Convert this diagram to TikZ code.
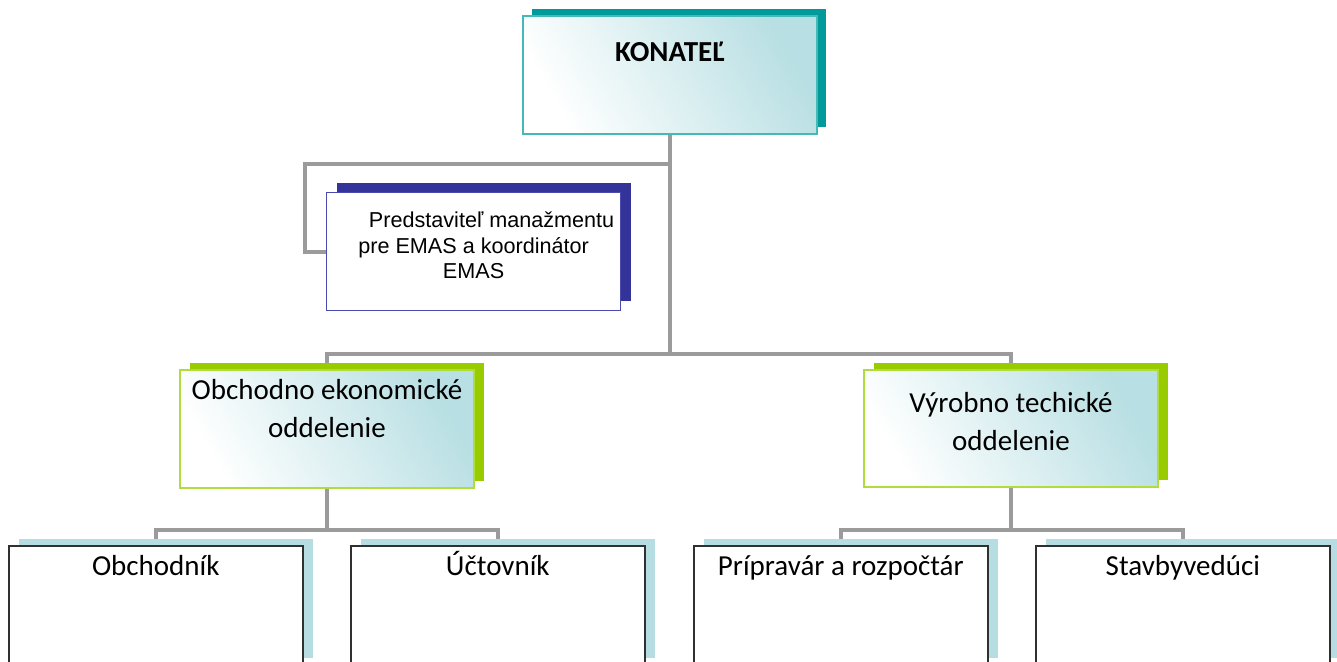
\documentclass[tikz,border=0pt]{standalone}
\usepackage{fontspec}
\setmainfont{Carlito}
\newfontfamily\arialfont{Liberation Sans}
\usetikzlibrary{shadows,backgrounds}

\definecolor{conngray}{HTML}{9B9B9B}
\definecolor{tealdark}{HTML}{009A9A}
\definecolor{tealline}{HTML}{45B8B8}
\definecolor{tealtint}{HTML}{B8DFE3}
\definecolor{emasblue}{HTML}{333399}
\definecolor{emasline}{HTML}{4A4AB0}
\definecolor{limegreen}{HTML}{99CC00}
\definecolor{limeline}{HTML}{B0DC3C}
\definecolor{paleblue}{HTML}{B6DEE2}
\definecolor{boxline}{HTML}{303030}

\begin{document}
\begin{tikzpicture}[x=1pt, y=-1pt,
    conn/.style={draw=conngray, line width=4pt},
    orgbox/.style={rectangle, anchor=north west, inner xsep=0pt, inner ysep=0pt,
        minimum width=294pt, align=center},
    tintbox/.style={orgbox, line width=2pt, left color=white, right color=tealtint,
        shading angle=120, font=\fontsize{29}{38}\selectfont},
    headbox/.style={tintbox, draw=tealline,
        drop shadow={shadow xshift=9pt, shadow yshift=7pt, fill=tealdark, opacity=1}},
    deptbox/.style={tintbox, draw=limeline,
        drop shadow={shadow xshift=10pt, shadow yshift=7pt, fill=limegreen, opacity=1}},
    emasbox/.style={orgbox, draw=emasline, line width=1.2pt, fill=white,
        font=\arialfont\fontsize{21.6}{25.5}\selectfont,
        drop shadow={shadow xshift=10pt, shadow yshift=10pt, fill=emasblue, opacity=1}},
    staffbox/.style={orgbox, draw=boxline, line width=1.6pt, fill=white,
        font=\fontsize{29}{38}\selectfont, text height=30pt, text depth=89pt,
        drop shadow={shadow xshift=10pt, shadow yshift=7pt, fill=paleblue, opacity=1}}]

    \useasboundingbox (0,0) rectangle (1337,661);
    \clip (0,0) rectangle (1337,661);

    % head
    \node[headbox, text height=45pt, text depth=73pt] (kon) at (522,15) {\bfseries KONATEĽ};

    % EMAS representative
    \node[emasbox, text height=86pt, text depth=32pt] (emas) at (326,192)
        {\hspace*{36pt}Predstaviteľ manažmentu\\pre EMAS a koordinátor\\EMAS};

    % departments
    \node[deptbox, text height=67pt, text depth=51pt] (oek) at (179,369)
        {Obchodno ekonomické\\oddelenie};
    \node[deptbox, text height=80pt, text depth=37pt] (vyr) at (863,369)
        {Výrobno techické\\oddelenie};

    % staff
    \node[staffbox] (obch) at (8,545) {Obchodník};
    \node[staffbox] (ucto) at (350,545) {Účtovník};
    \node[staffbox] (prip) at (693,545) {Prípravár a rozpočtár};
    \node[staffbox] (stav) at (1035,545) {Stavbyvedúci};

    % lines
    \begin{scope}[on background layer]
        \draw[conn] (kon.south) -- ++(0,29) -| ([xshift=-21pt]emas.west) -- (emas.west);
        \draw[conn] (kon.south) -- ++(0,219) -| (oek.north);
        \draw[conn] (kon.south) -- ++(0,219) -| (vyr.north);
        \draw[conn] (oek.south) -- ++(0,41) -| (obch.north);
        \draw[conn] (oek.south) -- ++(0,41) -| (ucto.north);
        \draw[conn] (vyr.south) -- ++(0,42) -| (prip.north);
        \draw[conn] (vyr.south) -- ++(0,42) -| (stav.north);
    \end{scope}
\end{tikzpicture}
\end{document}
